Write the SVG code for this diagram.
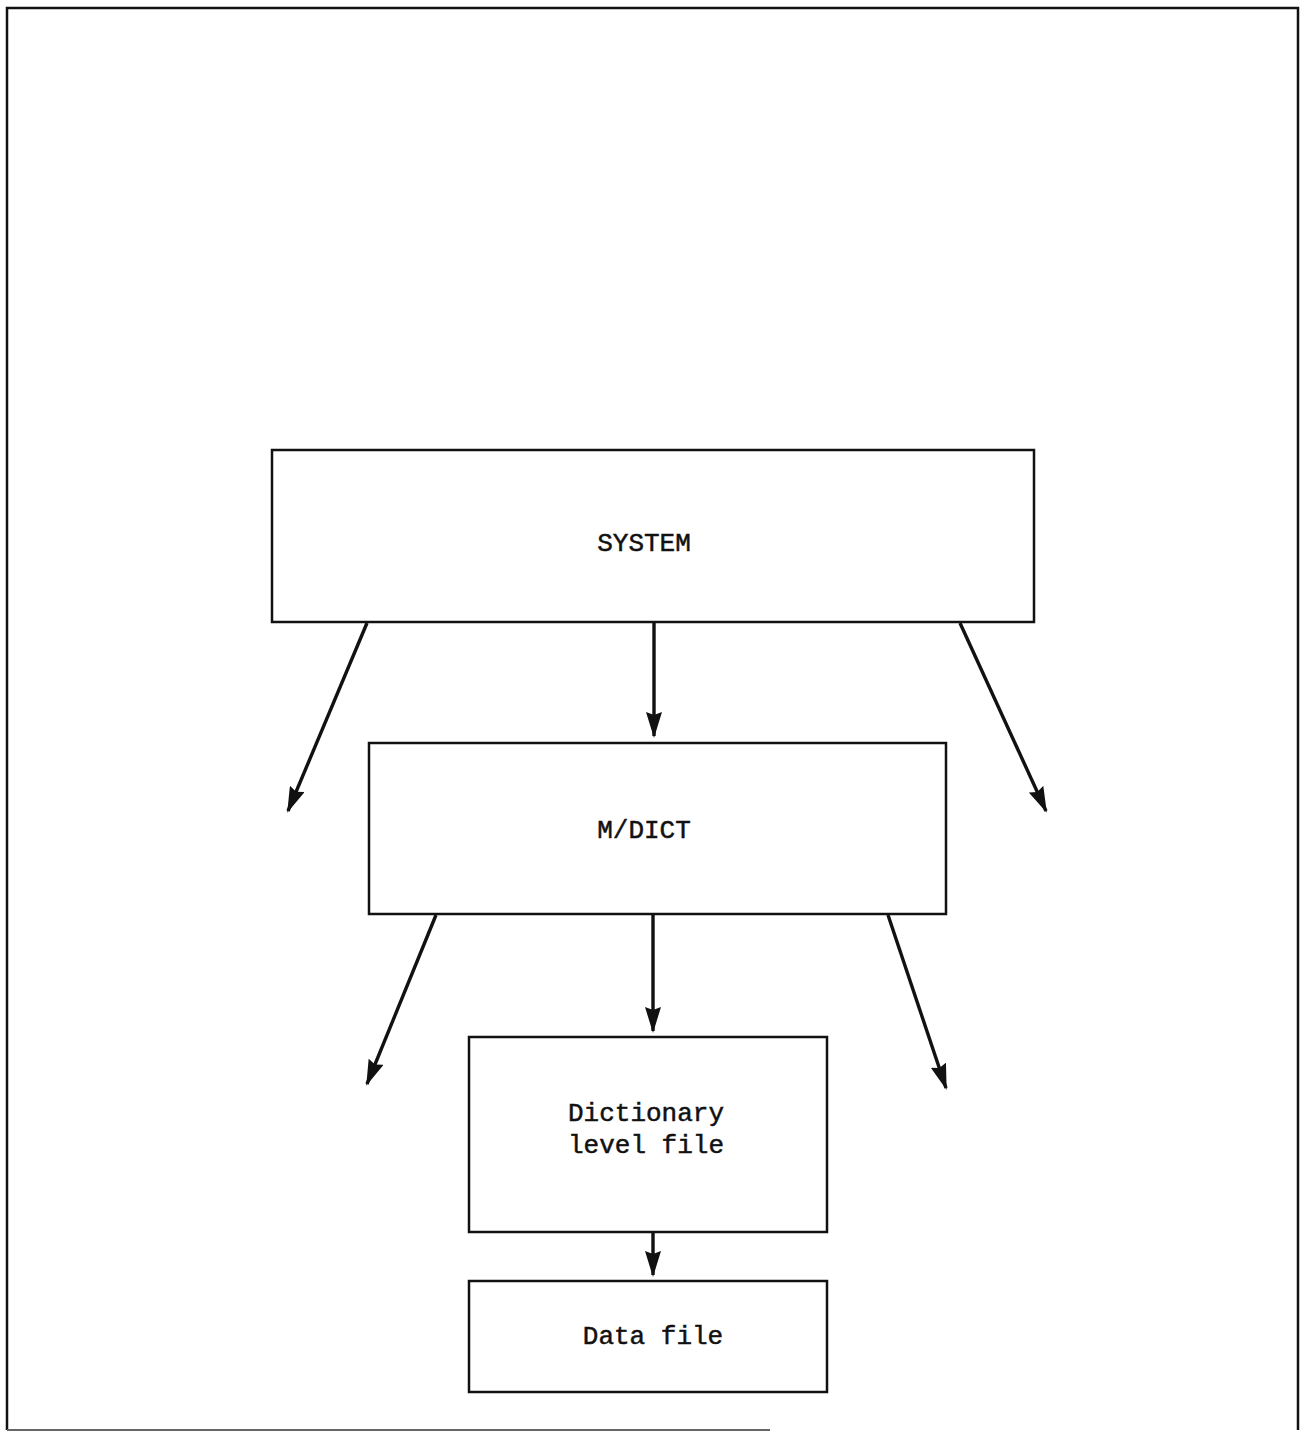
<svg xmlns="http://www.w3.org/2000/svg" width="1306" height="1432" viewBox="0 0 1306 1432">
  <style>
    .frame { fill: none; stroke: #111; stroke-width: 2.5; }
    .box { fill: #fff; stroke: #111; stroke-width: 2.5; }
    .label { font-family: "Liberation Mono", "Courier New", monospace; font-size: 26px; fill: #111; stroke: #111; stroke-width: 0.5; text-anchor: middle; }
    .conn { fill: none; stroke: #111; stroke-width: 3.4; marker-end: url(#head); }
  </style>
  <defs>
    <marker id="head" viewBox="0 0 26 16" refX="24" refY="8" markerWidth="26" markerHeight="16" markerUnits="userSpaceOnUse" orient="auto">
      <path d="M0,0 L26,8 L0,16 L3,8 Z" fill="#111"/>
    </marker>
  </defs>
  <rect width="1306" height="1432" fill="#fff"/>

  <!-- page frame -->
  <g id="frame">
    <path class="frame" d="M7,1430 V8 H1298 V1430"/>
    <path d="M7,1430 H770" stroke="#666" stroke-width="2" fill="none"/>
  </g>

  <g id="system">
    <rect class="box" x="272" y="450" width="762" height="172"/>
    <text class="label" x="644" y="551">SYSTEM</text>
  </g>

  <g id="mdict">
    <rect class="box" x="369" y="743" width="577" height="171"/>
    <text class="label" x="644" y="838">M/DICT</text>
  </g>

  <g id="dictionary">
    <rect class="box" x="469" y="1037" width="358" height="195"/>
    <text class="label" x="646" y="1121">Dictionary</text>
    <text class="label" x="646" y="1153">level file</text>
  </g>

  <g id="datafile">
    <rect class="box" x="469" y="1281" width="358" height="111"/>
    <text class="label" x="653" y="1344">Data file</text>
  </g>

  <g id="connectors">
    <line class="conn" x1="367" y1="623" x2="288" y2="811"/>
    <line class="conn" x1="654" y1="623" x2="654" y2="736"/>
    <line class="conn" x1="960" y1="623" x2="1046" y2="811"/>
    <line class="conn" x1="436" y1="915" x2="367" y2="1084"/>
    <line class="conn" x1="653" y1="915" x2="653" y2="1031"/>
    <line class="conn" x1="888" y1="915" x2="946" y2="1088"/>
    <line class="conn" x1="653" y1="1233" x2="653" y2="1275"/>
  </g>
</svg>
